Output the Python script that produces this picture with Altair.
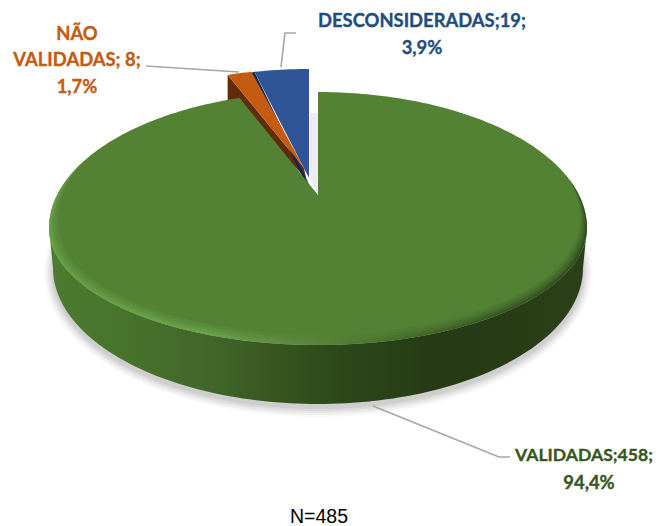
import math
import altair as alt

# ---- chart values ----
categories = ["VALIDADAS", "NÃO VALIDADAS", "DESCONSIDERADAS"]
counts = [458, 8, 19]
percent_labels = ["94,4%", "1,7%", "3,9%"]
total_label = "N=485"

GREEN, ORANGE, BLUE = "#548235", "#c55a11", "#2f5597"
TOTAL = sum(counts)
SQUEEZE = 0.83  # foreshortening of the slices at the back of the tilted pie
blue_sweep = counts[2] / TOTAL * 360 * SQUEEZE
orange_sweep = counts[1] / TOTAL * 360 * SQUEEZE + 0.3
gap = blue_sweep + orange_sweep


def rim(deg, cx=318, cy=228, rx=269, back=136, front=117, dx=0, dy=0):
    t = math.radians(deg)
    c, s = math.cos(t), math.sin(t)
    return [cx + rx * s + dx - 8, cy - (back if c > 0 else front) * c + dy - 8]


def pt(x, y):
    return [x - 8, y - 8]


def arc(a, b, n=120, **kw):
    return [rim(a + (b - a) * i / n, **kw) for i in range(n + 1)]


PROJ = dict(type="identity", scale=1, translate=[0, 0])


def shape(coords, **mark):
    ring = coords + [coords[0]]
    feature = {"type": "Feature", "properties": {},
               "geometry": {"type": "Polygon", "coordinates": [ring]}}
    data = alt.Data(values={"type": "FeatureCollection", "features": [feature]},
                    format=alt.DataFormat(property="features", type="json"))
    return alt.Chart(data).mark_geoshape(strokeWidth=0, **mark).project(**PROJ)


def polyline(coords):
    feature = {"type": "Feature", "properties": {},
               "geometry": {"type": "LineString", "coordinates": coords}}
    data = alt.Data(values={"type": "FeatureCollection", "features": [feature]},
                    format=alt.DataFormat(property="features", type="json"))
    return alt.Chart(data).mark_geoshape(filled=False, fill="transparent", stroke="#a6a6a6",
                                         strokeWidth=1.6).project(**PROJ)


def hgrad(stops):
    return alt.LinearGradient(gradient="linear", x1=0, x2=1, y1=0, y2=0,
                              stops=[alt.GradientStop(offset=o, color=c) for o, c in stops])


LOW = dict(cy=268, rx=265, back=136, front=136)
layers = []

# soft shadow under the pie
for grow, op in [(9, 0.05), (7, 0.07), (5, 0.09), (3, 0.11), (1, 0.13)]:
    sh = arc(70, 290, cy=270, rx=265 + grow, back=136 + grow, front=136 + grow, dx=0, dy=2)
    layers.append(shape(sh, fill="#808080", opacity=op))

# grey sliver cast in the gap behind the exploded slice
layers.append(shape([pt(310, 113), pt(318, 113), pt(318, 195), pt(310, 178)], fill="#ececec"))

# exploded slices: side walls, then faces
ORANGE_OFF = dict(dx=-12, dy=-23)
BLUE_OFF = dict(dx=-9, dy=-23)
orange_face = [pt(304, 168)] + [rim(-d, **ORANGE_OFF) for d in
                               [gap - (gap - blue_sweep) * i / 8 for i in range(9)]]
blue_face = [pt(309, 178)] + [rim(-blue_sweep * (1 - i / 12), **BLUE_OFF) for i in range(13)]
orange_left = rim(-gap, **ORANGE_OFF)
layers.append(shape([orange_left, [orange_left[0], orange_left[1] + 25], pt(306, 178), pt(304, 168)],
                    fill="#602c0a"))
layers.append(shape([[blue_face[1][0] - 3.5, blue_face[1][1] + 1], blue_face[1],
                     pt(309, 184), pt(303, 178)], fill="#12294f"))
layers.append(shape(orange_face, fill=ORANGE))
layers.append(shape(blue_face, fill=BLUE))

# main slice: wall, then face
wall = arc(90, 270) + arc(270, 90, **LOW)
layers.append(shape(wall, fill=hgrad([(0, "#4c7c30"), (0.15, "#47722b"), (0.3, "#41662a"),
                                      (0.42, "#37561f"), (0.52, "#2d4a1b"), (0.72, "#253a15"),
                                      (1, "#2b4018")])))
green_face = [pt(318, 195)] + arc(0, 360 - gap, n=360)
layers.append(shape(green_face, fill=GREEN))

# bevel around the front rim of the face
A, B = 68, 300
outer = arc(A, B, n=125)
for thick, op in [(11, 0.13), (8, 0.18), (5, 0.25), (2.5, 0.32)]:
    inner = []
    for i in range(125, -1, -1):
        d = A + (B - A) * i / 125
        taper = min(1.0, abs(math.sin(math.radians((d - A) * 180 / (B - A)))) * 2.2)
        k = thick * taper
        inner.append(rim(d, rx=269 - k, back=136 - k, front=117 - k))
    layers.append(shape(outer + inner, opacity=op,
                        fill=hgrad([(0, "#6fae4c"), (0.3, "#76b455"), (0.48, "#5f8a41"),
                                    (0.66, "#3d5f25"), (0.85, "#263c15"), (1, "#1f3012")])))

# leader lines
layers.append(polyline([pt(146, 66), pt(239, 72)]))
layers.append(polyline([pt(296, 33), pt(285, 33), pt(281, 67)]))
layers.append(polyline([pt(373, 406), pt(499, 457), pt(510, 457)]))


def label(lines, x, ys, color, font="Lato", size=18.4, weight="bold", stroke=0.35):
    return [alt.Chart(alt.Data(values=[{"t": line}])).mark_text(
        font=font, fontSize=size, fontWeight=weight, color=color, align="center", baseline="middle",
        stroke=color, strokeWidth=stroke
    ).encode(text="t:N", x=alt.value(x - 8), y=alt.value(y - 8)) for line, y in zip(lines, ys)]


layers += label(["NÃO", f"VALIDADAS; {counts[1]};", percent_labels[1]], 77, [34, 60, 87], ORANGE)
layers += label([f"{categories[2]};{counts[2]};", percent_labels[2]], 422, [21, 48], "#1f4e79")
layers += label([f"{categories[0]};{counts[0]};"], 584, [456], "#375623", size=17.6)
layers += label([percent_labels[0]], 589, [483], "#375623")
layers += label([total_label], 319, [517], "#000000", font="Liberation Sans", size=19.5, weight="normal", stroke=0)

chart = alt.layer(*layers).properties(
    width=649, height=518, padding=0, autosize=alt.AutoSizeParams(type="none"),
    background="white"
).configure_view(stroke=None)

chart.save("out.html", embed_options={"renderer": "svg", "actions": False})
